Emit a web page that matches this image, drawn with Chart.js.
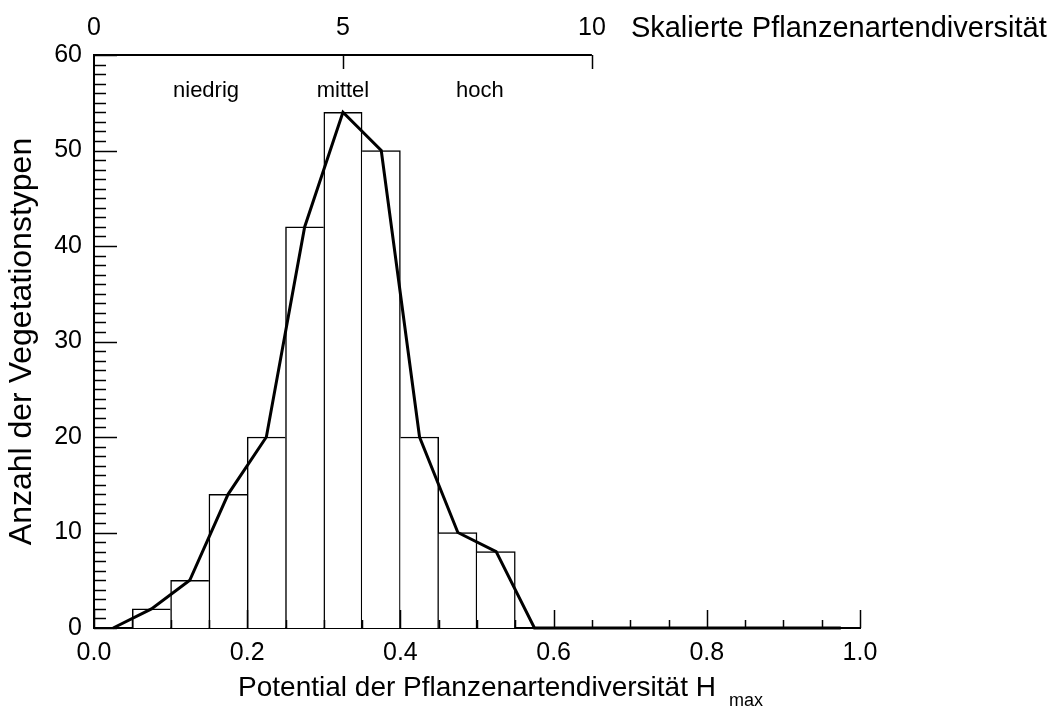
<!DOCTYPE html>
<html>
<head>
<meta charset="utf-8">
<script src="https://cdn.jsdelivr.net/npm/chart.js@4.4.1/dist/chart.umd.min.js"></script>
<style>
  html, body { margin: 0; padding: 0; background: #fff; }
  #wrap { width: 1057px; height: 712px; }
</style>
</head>
<body>
<div id="wrap"><canvas id="histChart" width="1057" height="712"></canvas></div>
<script>
// Histogram bins of H_max (width 0.05), given by their centres
const binCenters = [0.025, 0.075, 0.125, 0.175, 0.225, 0.275, 0.325, 0.375, 0.425, 0.475,
                    0.525, 0.575, 0.625, 0.675, 0.725, 0.775, 0.825, 0.875, 0.925, 0.975];
const binCounts = [0, 2, 5, 14, 20, 42, 54, 50, 20, 10, 8, 0, 0, 0, 0, 0, 0, 0, 0, 0];

const xTickLabels = ["0.0", "0.2", "0.4", "0.6", "0.8", "1.0"];
const topTicks = [0, 5, 10];          // scaled plant species diversity
const zoneLabels = ["niedrig", "mittel", "hoch"];

const FONT = "'Liberation Sans', Arial, Helvetica, sans-serif";

// bars only where there is something in the bin
const barData = binCenters
    .map((c, i) => ({ x: c, y: binCounts[i] }))
    .filter(p => p.y > 0);
const lineData = binCenters.map((c, i) => ({ x: c, y: binCounts[i] }));

// shared edges drawn once, by the taller bar
function barBorder(ctx) {
    const i = ctx.dataIndex;
    const cur = barData[i] ? barData[i].y : 0;
    const prev = i > 0 ? barData[i - 1].y : 0;
    const next = i < barData.length - 1 ? barData[i + 1].y : 0;
    return {
        top: 1.5,
        left: cur > prev ? 1.5 : 0,
        right: cur >= next ? 1.5 : 0,
        bottom: 0
    };
}

const axisDecor = {
    id: "axisDecor",
    afterDraw(chart) {
        const ctx = chart.ctx;
        const xs = chart.scales.x, ys = chart.scales.y, ts = chart.scales.x2;
        const area = chart.chartArea;
        ctx.save();
        ctx.strokeStyle = "#000";
        ctx.fillStyle = "#000";

        // y ticks, pointing into the plot
        ctx.lineWidth = 1.5;
        for (let v = ys.min; v <= ys.max; v++) {
            const py = Math.round(ys.getPixelForValue(v)) + 0.5;
            const len = v % 10 === 0 ? 23 : 12;
            ctx.beginPath();
            ctx.moveTo(area.left, py);
            ctx.lineTo(area.left + len, py);
            ctx.stroke();
        }
        // x ticks, pointing up
        for (let i = 0; i <= 20; i++) {
            const px = Math.round(xs.getPixelForValue(i * 0.05)) + 0.5;
            const len = i % 4 === 0 ? 18 : 8;
            ctx.beginPath();
            ctx.moveTo(px, area.bottom);
            ctx.lineTo(px, area.bottom - len);
            ctx.stroke();
        }

        // top axis, only from 0 to 10
        const t0 = ts.getPixelForValue(topTicks[0]);
        const t1 = ts.getPixelForValue(topTicks[topTicks.length - 1]);
        ctx.lineWidth = 2;
        ctx.beginPath();
        ctx.moveTo(t0, area.top);
        ctx.lineTo(t1, area.top);
        ctx.stroke();
        ctx.lineWidth = 1.5;
        topTicks.slice(1).forEach(v => {
            const px = Math.round(ts.getPixelForValue(v)) + 0.5;
            ctx.beginPath();
            ctx.moveTo(px, area.top);
            ctx.lineTo(px, area.top + 14);
            ctx.stroke();
        });

        ctx.textBaseline = "middle";
        ctx.textAlign = "left";
        ctx.font = "29px " + FONT;
        ctx.fillText("Skalierte Pflanzenartendiversität", t1 + 39, 29);

        // niedrig / mittel / hoch
        ctx.textAlign = "center";
        ctx.font = "22px " + FONT;
        const zoneAt = [2.25, 5, 7.75];
        zoneLabels.forEach((s, i) => {
            ctx.fillText(s, ts.getPixelForValue(zoneAt[i]), ys.getPixelForValue(56.2));
        });

        // subscript of the x title
        const tOpts = xs.options.title;
        ctx.font = tOpts.font.size + "px " + FONT;
        const w = ctx.measureText(tOpts.text).width;
        const cx = (xs.left + xs.right) / 2;
        ctx.font = "18px " + FONT;
        ctx.textAlign = "left";
        ctx.textBaseline = "alphabetic";
        ctx.fillText("max", cx + w / 2 + 13, 706);
        ctx.restore();
    }
};

new Chart(document.getElementById("histChart"), {
    type: "bar",
    data: {
        datasets: [
            {
                type: "line",
                data: lineData,
                borderColor: "#000",
                borderWidth: 3,
                pointRadius: 0,
                tension: 0,
                clip: false
            },
            {
                type: "bar",
                data: barData,
                backgroundColor: "#fff",
                borderColor: "#000",
                borderWidth: barBorder,
                borderSkipped: false,
                barPercentage: 1,
                categoryPercentage: 1,
                grouped: false
            }
        ]
    },
    plugins: [axisDecor],
    options: {
        responsive: false,
        animation: false,
        layout: { padding: { left: 0, right: 197, top: 0, bottom: 0 } },
        plugins: { legend: { display: false }, tooltip: { enabled: false } },
        scales: {
            x: {
                type: "linear",
                position: "bottom",
                min: 0,
                max: 1,
                offset: false,
                grid: { display: false, drawTicks: false, offset: false },
                border: { display: true, color: "#000", width: 2 },
                ticks: {
                    stepSize: 0.2,
                    padding: 10,
                    color: "#000",
                    font: { family: FONT, size: 25 },
                    maxRotation: 0,
                    callback: (v, i) => xTickLabels[i]
                },
                title: {
                    display: true,
                    text: "Potential der Pflanzenartendiversität H",
                    color: "#000",
                    font: { family: FONT, size: 28 },
                    padding: { top: 0, bottom: 7 }
                },
                afterFit: s => { s.height = 84; }
            },
            x2: {
                type: "linear",
                position: "top",
                min: 0,
                max: 10 / 0.65,
                offset: false,
                grid: { display: false, drawTicks: false, offset: false },
                border: { display: false },
                ticks: {
                    padding: 12,
                    color: "#000",
                    font: { family: FONT, size: 25 },
                    maxRotation: 0
                },
                afterBuildTicks: s => { s.ticks = topTicks.map(v => ({ value: v })); },
                afterFit: s => { s.height = 55; }
            },
            y: {
                min: 0,
                max: 60,
                grid: { display: false, drawTicks: false },
                border: { display: true, color: "#000", width: 2 },
                ticks: {
                    stepSize: 10,
                    padding: 12,
                    color: "#000",
                    font: { family: FONT, size: 25 }
                },
                title: {
                    display: true,
                    text: "Anzahl der Vegetationstypen",
                    color: "#000",
                    font: { family: FONT, size: 32 },
                    padding: { top: 3, bottom: 0 }
                },
                afterFit: s => { s.width = 94; }
            }
        }
    }
});
</script>
</body>
</html>
